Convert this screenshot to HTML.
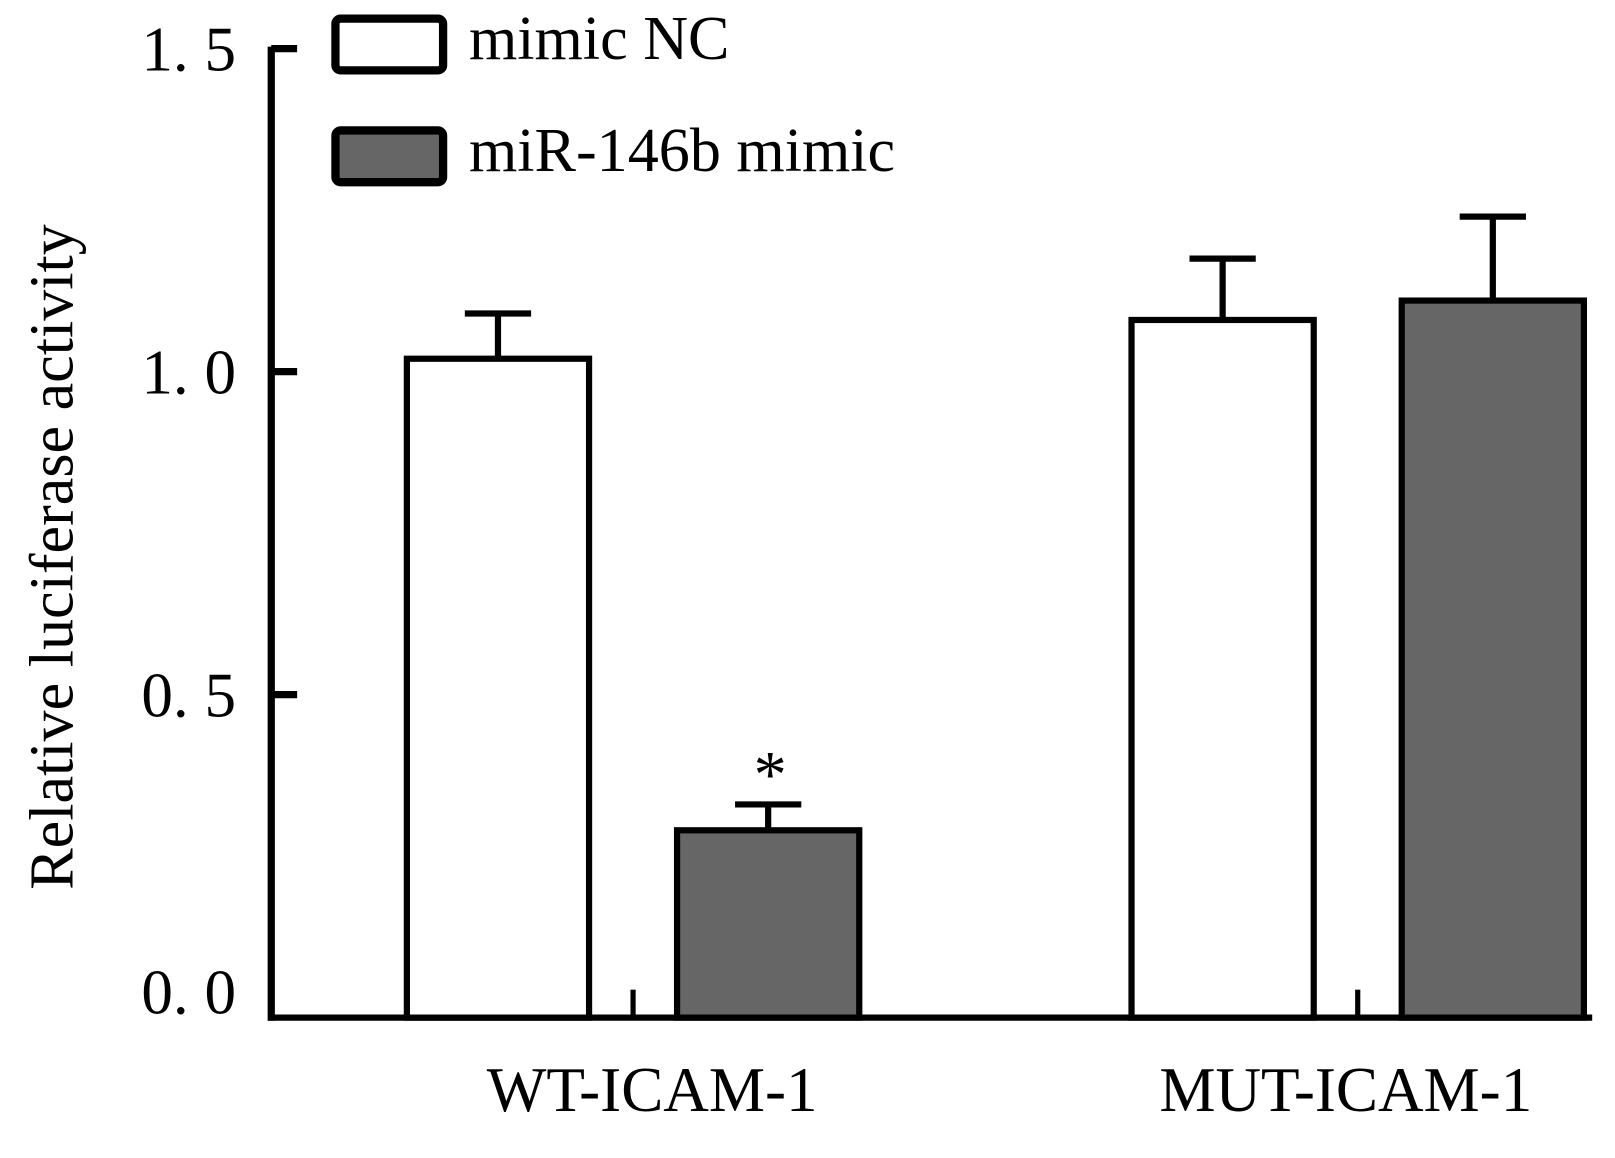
<!DOCTYPE html>
<html><head><meta charset="utf-8"><style>
html,body{margin:0;padding:0;background:#fff;}
svg{display:block;font-family:"Liberation Serif",serif;}
</style></head><body>
<svg id="chart" width="1615" height="1158" viewBox="0 0 1560 1118.6" xmlns="http://www.w3.org/2000/svg">
<g id="g"></g>
</svg>
<script>
const categories = ["WT-ICAM-1", "MUT-ICAM-1"];
const seriesNames = ["mimic NC", "miR-146b mimic"];
const ncValues = [1.02, 1.08];
const ncErrors = [0.07, 0.095];
const mimicValues = [0.29, 1.11];
const mimicErrors = [0.04, 0.13];
const yTicks = [0, 0.5, 1.0, 1.5];
const yTickLabels = ["0. 0", "0. 5", "1. 0", "1. 5"];

const NS = "http://www.w3.org/2000/svg";
const g = document.getElementById("g");
const y0 = 983, yTop = 47, axisX = 262, axisRight = 1538;
function y(v){ return y0 - (v/1.5)*(y0-yTop); }
const groupStart = [393, 1093];
const labelCenters = [630, 1300];
const barW = 176, gap = 85;
function mk(tag, attrs, parent){ const e=document.createElementNS(NS,tag); for(const k in attrs) e.setAttribute(k,attrs[k]); (parent||g).appendChild(e); return e; }

let e = mk("line",{x1:axisX,y1:yTop-2,x2:axisX,y2:y0+3,stroke:"#000","stroke-width":7});


e = mk("line",{x1:axisX-3,y1:y0,x2:axisRight,y2:y0,stroke:"#000","stroke-width":6});


yTicks.forEach((t,i)=>{
  const yy=y(t);
  if(t>0){
    const tk=mk("line",{x1:axisX,y1:yy,x2:axisX+25,y2:yy,stroke:"#000","stroke-width":7});
    
    
  }
  const tx=mk("text",{x:228,y:(t===0?y0-4:yy+21),"text-anchor":"end","font-size":61});
  tx.textContent=yTickLabels[i];
  
  
});
categories.forEach((c,i)=>{
  const xs=[groupStart[i], groupStart[i]+barW+gap];
  const vals=[ncValues[i], mimicValues[i]];
  const errs=[ncErrors[i], mimicErrors[i]];
  const fills=["#fff","#666"];
  for(let s=0;s<2;s++){
    const cx=xs[s]+barW/2;
    const el=mk("line",{x1:cx,y1:y(vals[s]),x2:cx,y2:y(vals[s]+errs[s]),stroke:"#000","stroke-width":6});
    
    
    const cap=mk("line",{x1:cx-32,y1:y(vals[s]+errs[s]),x2:cx+32,y2:y(vals[s]+errs[s]),stroke:"#000","stroke-width":6});
    
    
    const r=mk("rect",{x:xs[s],y:y(vals[s]),width:barW,height:y0-y(vals[s]),fill:fills[s],stroke:"#000","stroke-width":6});
    
    
  }
  const mt=groupStart[i]+barW+gap/2;
  const m=mk("line",{x1:mt,y1:y0-27,x2:mt,y2:y0,stroke:"#000","stroke-width":5});
  
  
  const lab=mk("text",{x:labelCenters[i],y:1073,"text-anchor":"middle","font-size":61});
  lab.textContent=c;
  
  
});
e = mk("text",{x:744,y:770,"text-anchor":"middle","font-size":64});
e.textContent="*";


[["#fff",18],["#666",126]].forEach((d,i)=>{
  const b=mk("rect",{x:324,y:d[1],width:104,height:50,rx:5,fill:d[0],stroke:"#000","stroke-width":8});
  
  
  const t=mk("text",{x:453,y:d[1]+39,"font-size":60});
  t.textContent=seriesNames[i];
  
  
});
e = mk("text",{x:0,y:0,"text-anchor":"middle","font-size":60,transform:"translate(70,538) rotate(-90)"});
e.textContent="Relative luciferase activity";


</script>
</body></html>
